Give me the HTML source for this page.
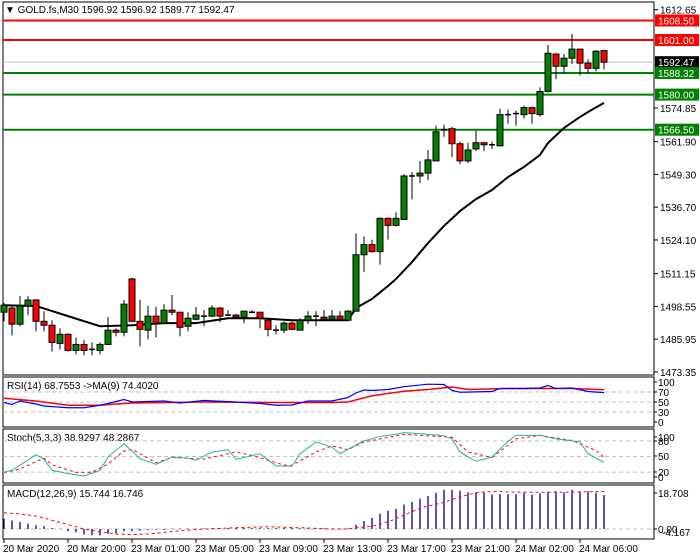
<!DOCTYPE html>
<html><head><meta charset="utf-8">
<style>
html,body{margin:0;padding:0;background:#fff;}
svg{display:block;font-family:"Liberation Sans",sans-serif;font-size:10px;}
</style></head>
<body>
<svg id="chart" width="700" height="560" viewBox="0 0 700 560" xmlns="http://www.w3.org/2000/svg">
<rect x="0" y="0" width="700" height="560" fill="#fff"/>
<g id="main"></g>
<g id="rsi"></g>
<g id="stoch"></g>
<g id="macd"></g>
<g id="taxis"></g>
</svg>
<script>
const opens=[1496.3,1497.9,1491.7,1498.7,1501.0,1492.8,1491.3,1484.3,1487.8,1481.6,1483.9,1482.0,1481.6,1483.9,1489.4,1488.6,1509.1,1492.8,1489.4,1494.8,1492.1,1497.1,1496.3,1490.9,1493.6,1494.8,1494.8,1497.9,1495.2,1495.2,1494.4,1496.3,1496.3,1493.2,1489.4,1489.4,1492.1,1489.4,1493.2,1494.8,1494.4,1493.6,1494.8,1493.2,1496.7,1518.4,1522.3,1519.6,1532.4,1529.7,1532.0,1548.7,1548.7,1549.8,1554.5,1566.5,1566.9,1561.1,1554.5,1559.1,1561.5,1560.7,1560.3,1572.3,1572.7,1572.3,1575.0,1572.3,1581.2,1595.6,1590.9,1594.0,1597.5,1592.1,1590.1,1596.92];
const highs=[1499.8,1498.7,1502.5,1502.5,1501.4,1496.7,1493.2,1490.1,1488.2,1486.6,1485.5,1484.7,1484.7,1494.4,1490.1,1501.0,1509.5,1501.0,1498.7,1498.3,1499.4,1502.9,1496.3,1496.3,1498.3,1497.1,1499.0,1498.3,1497.1,1495.6,1496.7,1497.1,1496.3,1494.0,1491.3,1492.8,1492.8,1494.0,1496.7,1496.7,1497.1,1497.1,1496.7,1497.1,1526.6,1525.4,1524.2,1532.8,1532.8,1534.7,1549.4,1550.2,1554.5,1558.7,1568.0,1568.4,1567.7,1561.8,1561.5,1566.1,1561.5,1561.8,1574.6,1574.2,1573.9,1575.8,1575.4,1582.8,1599.1,1595.9,1595.6,1603.3,1597.5,1593.6,1597.1,1596.92];
const lows=[1492.8,1487.4,1490.9,1495.2,1489.0,1489.0,1481.2,1482.0,1481.2,1480.1,1479.7,1479.7,1480.1,1483.9,1487.0,1487.0,1492.8,1483.2,1485.9,1486.6,1491.7,1495.2,1487.0,1489.0,1493.2,1490.9,1494.4,1492.5,1494.8,1494.4,1492.1,1495.9,1490.1,1487.0,1487.8,1488.2,1489.4,1489.4,1491.7,1490.9,1493.2,1493.2,1493.2,1493.2,1496.7,1511.8,1519.2,1514.6,1524.2,1529.3,1532.0,1539.7,1545.9,1547.1,1554.5,1563.8,1556.0,1553.3,1553.7,1558.3,1558.3,1559.1,1560.3,1568.8,1568.0,1570.8,1568.8,1571.5,1580.8,1585.9,1588.2,1591.7,1587.4,1588.2,1589.0,1589.77];
const closes=[1499.0,1491.7,1498.7,1501.0,1492.8,1491.3,1484.7,1487.8,1481.6,1483.9,1481.6,1482.0,1483.9,1489.4,1488.6,1499.4,1492.8,1489.7,1494.8,1492.1,1497.1,1496.3,1490.5,1494.0,1495.2,1494.8,1497.9,1494.8,1495.2,1494.4,1496.7,1496.3,1494.0,1489.7,1489.4,1492.1,1489.7,1493.2,1494.8,1494.8,1493.6,1494.8,1493.6,1496.7,1518.4,1522.3,1519.6,1532.4,1529.7,1532.4,1548.7,1548.7,1549.8,1554.9,1565.7,1566.5,1561.1,1554.5,1558.7,1561.5,1560.7,1560.7,1572.3,1572.3,1572.7,1575.0,1572.7,1581.2,1595.9,1590.9,1594.0,1597.5,1592.1,1590.1,1596.7,1592.47];
const maIdx=[0,4,8,12,16,20,24,28,32,36,40,43,44,46,48,49,51,53,55,57,59,61,63,65,67,68,70,72,73,75];
const maVals=[1499.0,1498.7,1494.8,1490.9,1491.3,1492.1,1492.1,1494.0,1494.0,1493.2,1493.2,1493.2,1497.9,1501.4,1506.4,1509.1,1515.6,1522.9,1529.5,1535.2,1539.8,1543.3,1548.3,1552.2,1556.8,1561.4,1567.2,1571.4,1573.3,1576.8];
const levelPrices=[1608.50,1601.00,1588.32,1580.00,1566.50];
const levelColors=["#ff0000","#ff0000","#008000","#008000","#008000"];
const priceTicks=[1612.65,1574.85,1561.90,1549.30,1536.70,1524.10,1511.15,1498.55,1485.95,1473.35];
const lastPrice=1592.47;
const rsiIdx=[0,1,2,4,5,8,10,12,13,15,16,20,22,25,29,32,34,36,38,41,43,44,45,46,48,50,53,55,56,57,61,62,65,67,68,69,71,73,75];
const rsiVals=[49,45,52,46,42,38.5,38.5,43.5,47,55,50,52,48,53,50,47,43.5,44,52,52,59,68,74,73,75,80.6,85.6,85,73,69.5,71,77,77,78,83,77,78,71,68.8];
const rsiMaIdx=[0,4,8,12,14,16,25,33,41,43,46,50,53,56,58,63,71,75];
const rsiMaVals=[57.5,52,43.5,43.5,46,48,50,49,49,50,62.5,71.6,75,80,75,77,77,74.4];
const kIdx=[0,1,4,5,6,8,10,12,13,15,17,19,21,23,24,26,28,29,32,34,36,37,39,41,42,43,45,47,49,50,52,55,56,57,59,61,63,64,67,69,71,72,73,75];
const kVals=[20,23.5,53.5,44.6,23.5,17,12.5,23.5,49,74.7,45.8,35,49,47,42.7,58.7,63,44.6,55.4,31.7,31.7,55.4,78,68,55.4,63.8,80,88.8,92.7,96,94,90,84,58.7,40.7,49,79,90.7,90.7,84,80,78,55.4,38.9];
const dIdx=[0,2,5,6,9,11,13,15,16,19,21,25,29,31,35,36,39,41,43,45,50,56,58,61,64,67,71,74,75];
const dVals=[19,26,47,34,19.5,19.5,35.5,60.6,63.8,38,48,45,58.7,52,33.5,33,58.7,70.5,63,78,92.7,87,58.7,48,84,90.7,80.8,61.4,48.3];
const macdHist=[4.9,4.1,3.4,2.6,1.8,1.4,0.5,0.1,-1.1,-1.6,-2.7,-3.0,-3.0,-2.4,-2.1,-1.1,-1.1,-0.8,-0.5,-0.5,-0.5,0.2,0.2,0.2,0.2,0.3,0.5,0.5,0.5,0.5,0.5,0.5,0.5,0.5,0.5,0.5,0.5,0.4,0.4,0.4,0.4,0.3,0.3,0.3,2.0,3.8,5.3,7.3,8.8,9.7,11.7,13.0,14.5,15.8,17.4,18.8,18.8,18.4,17.6,17.6,17.6,16.5,16.7,16.7,16.7,17.4,16.5,17.1,17.6,18.2,17.6,18.8,18.2,18.2,17.4,16.3];
const sigIdx=[0,2,4,6,8,10,12,14,16,18,20,22,25,29,33,37,41,43,44,46,48,50,52,55,57,59,61,65,69,75];
const sigVals=[7.8,7.2,6.2,4.2,2.1,0,-1.3,-2.4,-2.7,-2.4,-1.7,-0.8,0,0.6,1.1,0.6,0,0,0.6,1.3,3.4,6.6,10,12.8,15.4,17.4,18,17.6,17.6,18];
const timeLabels=["20 Mar 2020","20 Mar 20:00","23 Mar 01:00","23 Mar 05:00","23 Mar 09:00","23 Mar 13:00","23 Mar 17:00","23 Mar 21:00","24 Mar 02:00","24 Mar 06:00"];

const NS="http://www.w3.org/2000/svg";
const L=3,R=654;
function xOf(i){return 4+8*i;}
function yP(p){return 40+(1601-p)*2.6;}
function yRsi(v){return 427-v*0.5;}
function ySt(v){return 482.5-v*0.52;}
function yMacd(v){return 529-v*2.085;}
function mk(parent,tag,attrs,text){const e=document.createElementNS(NS,tag);for(const k in attrs)e.setAttribute(k,attrs[k]);if(text!==undefined)e.textContent=text;parent.appendChild(e);return e;}

const main=document.getElementById('main');
let fr=mk(main,'rect',{x:L,y:2,width:R-L,height:373,fill:'none',stroke:'#000','stroke-width':1});


priceTicks.forEach(p=>{
  const y=yP(p);
  let t=mk(main,'line',{x1:R,x2:R+4,y1:y,y2:y,stroke:'#000'});
  
  
  let tx=mk(main,'text',{x:R+6,y:y+4,fill:'#000'},p.toFixed(2));
  
  
});
let lp=mk(main,'line',{x1:L,x2:R,y1:yP(lastPrice),y2:yP(lastPrice),stroke:'#c0c0c0'});


levelPrices.forEach((p,k)=>{
  const y=yP(p);
  let ln=mk(main,'line',{x1:L,x2:R,y1:y,y2:y,stroke:levelColors[k],'stroke-width':2});
  
  
});
let pts=maIdx.map((i,k)=>xOf(i)+','+yP(maVals[k])).join(' ');
let ma=mk(main,'polyline',{points:pts,fill:'none',stroke:'#000','stroke-width':2});


opens.forEach((o,i)=>{
  const c=closes[i],x=xOf(i);
  const g=mk(main,'g',{});
  
  
  mk(g,'line',{x1:x,x2:x,y1:yP(highs[i]),y2:yP(lows[i]),stroke:'#000'});
  const top=yP(Math.max(o,c)),bot=yP(Math.min(o,c));
  if(Math.abs(bot-top)<1.2){mk(g,'line',{x1:x-3,x2:x+3,y1:top,y2:top,stroke:'#000','stroke-width':1.5});}
  else mk(g,'rect',{x:x-3,y:top,width:6,height:bot-top,fill:c>=o?'#008000':'#ff0000',stroke:'#000'});
});
function box(p,bg,fg,name){
  const y=yP(p);
  const g=mk(main,'g',{});
  
  
  mk(g,'rect',{x:R+1,y:y-6,width:44,height:12,fill:bg});
  mk(g,'text',{x:R+4,y:y+4,fill:fg},p.toFixed(2));
}
box(1608.50,'#ff0000','#fff','level-label-1608');
box(1601.00,'#ff0000','#fff','level-label-1601');
box(lastPrice,'#000','#fff','last-price-label');
box(1588.32,'#008000','#fff','level-label-1588');
box(1580.00,'#008000','#fff','level-label-1580');
box(1566.50,'#008000','#fff','level-label-1566');
let ti=mk(main,'text',{x:5,y:13,fill:'#000'},'▼ GOLD.fs,M30  1596.92 1596.92 1589.77 1592.47');



function panel(g,top,h,label,name){
  let r=mk(g,'rect',{x:L,y:top,width:R-L,height:h,fill:'none',stroke:'#000'});
  
  
  let t=mk(g,'text',{x:7,y:top+12,fill:'#000'},label);
  
  
}
function dashed(g,y){let d=mk(g,'line',{x1:L,x2:R,y1:y,y2:y,stroke:'#c0c0c0','stroke-dasharray':'4,3'});}
function axLabel(g,y,t){let e=mk(g,'text',{x:R+4,y:y+4,fill:'#000'},t);mk(g,'line',{x1:R,x2:R+3,y1:y,y2:y,stroke:'#000'});}

const rsi=document.getElementById('rsi');
panel(rsi,377,50,'RSI(14) 68.7553  ->MA(9) 74.4020','rsi');
[70,50,30].forEach(v=>dashed(rsi,yRsi(v)));
[[100,'100'],[70,'70'],[50,'50'],[30,'30'],[0,'0']].forEach(a=>axLabel(rsi,yRsi(a[0])+(a[0]===100?5:0)-(a[0]===0?5:0),a[1]));
let rm=mk(rsi,'polyline',{points:rsiMaIdx.map((i,k)=>xOf(i)+','+yRsi(rsiMaVals[k])).join(' '),fill:'none',stroke:'#ff0000','stroke-width':1.5});


let rl=mk(rsi,'polyline',{points:rsiIdx.map((i,k)=>xOf(i)+','+yRsi(rsiVals[k])).join(' '),fill:'none',stroke:'#0000ff','stroke-width':1.2});



const st=document.getElementById('stoch');
panel(st,429,54,'Stoch(5,3,3) 38.9297 48.2867','stoch');
[80,50,20].forEach(v=>dashed(st,ySt(v)));
[[100,'100',437],[80,'80',441],[50,'50',456],[20,'20',472],[0,'0',477]].forEach(a=>axLabel(st,a[2],a[1]));
let sd=mk(st,'polyline',{points:dIdx.map((i,k)=>xOf(i)+','+ySt(dVals[k])).join(' '),fill:'none',stroke:'#ff0000','stroke-dasharray':'3,3'});


let sk=mk(st,'polyline',{points:kIdx.map((i,k)=>xOf(i)+','+ySt(kVals[k])).join(' '),fill:'none',stroke:'#20b2aa'});



const mc=document.getElementById('macd');
panel(mc,485,54,'MACD(12,26,9) 15.744 16.746','macd');
dashed(mc,yMacd(0));
axLabel(mc,493,'18.708');
axLabel(mc,529,'0.00');
let neg=mk(mc,'text',{x:R+8,y:536,fill:'#000'},'-4.167');


macdHist.forEach((v,i)=>{
  const x=xOf(i);
  let b=mk(mc,'line',{x1:x,x2:x,y1:yMacd(0),y2:yMacd(v),stroke:'#00008b','stroke-width':1.3});
  
  
});
let sg=mk(mc,'polyline',{points:sigIdx.map((i,k)=>xOf(i)+','+yMacd(sigVals[k])).join(' '),fill:'none',stroke:'#ff0000','stroke-dasharray':'3,3'});



const ta=document.getElementById('taxis');
timeLabels.forEach((t,k)=>{
  const x=xOf(k*8);
  mk(ta,'line',{x1:x,x2:x,y1:539,y2:543,stroke:'#000'});
  let e=mk(ta,'text',{x:x-1,y:552,fill:'#000'},t);
  
  
});
</script>
</body></html>
